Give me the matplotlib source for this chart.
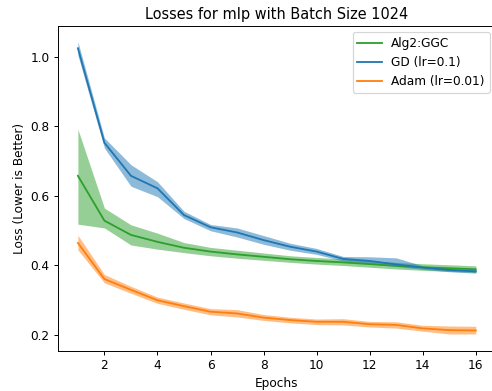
import numpy as np
import matplotlib
matplotlib.use('Agg')
import matplotlib.pyplot as plt

# データ
epochs = np.arange(1, 17)

ggc_mean = [0.658, 0.529, 0.488, 0.468, 0.451, 0.440, 0.432, 0.425,
            0.418, 0.413, 0.409, 0.404, 0.399, 0.395, 0.392, 0.389]
ggc_low = [0.519, 0.508, 0.459, 0.447, 0.437, 0.428, 0.421, 0.415,
           0.409, 0.404, 0.400, 0.395, 0.390, 0.386, 0.383, 0.380]
ggc_high = [0.792, 0.565, 0.517, 0.493, 0.466, 0.452, 0.444, 0.436,
            0.428, 0.423, 0.419, 0.414, 0.409, 0.405, 0.402, 0.399]

gd_mean = [1.025, 0.753, 0.658, 0.622, 0.545, 0.510, 0.495, 0.473,
           0.454, 0.440, 0.419, 0.413, 0.403, 0.394, 0.387, 0.383]
gd_low = [1.005, 0.738, 0.628, 0.598, 0.535, 0.500, 0.482, 0.461,
          0.444, 0.432, 0.413, 0.405, 0.397, 0.389, 0.382, 0.378]
gd_high = [1.044, 0.767, 0.690, 0.641, 0.556, 0.518, 0.508, 0.486,
           0.464, 0.449, 0.426, 0.425, 0.422, 0.399, 0.392, 0.388]

adam_mean = [0.465, 0.361, 0.330, 0.300, 0.283, 0.267, 0.262, 0.250,
             0.243, 0.238, 0.238, 0.231, 0.229, 0.219, 0.214, 0.213]
adam_low = [0.445, 0.350, 0.320, 0.291, 0.274, 0.258, 0.252, 0.242,
            0.235, 0.230, 0.229, 0.223, 0.220, 0.211, 0.203, 0.203]
adam_high = [0.487, 0.374, 0.340, 0.309, 0.292, 0.276, 0.273, 0.259,
             0.251, 0.246, 0.247, 0.239, 0.238, 0.228, 0.226, 0.225]

dpi = 87
fig = plt.figure(figsize=(492 / dpi, 391 / dpi), dpi=dpi)
ax = fig.add_axes([58 / 492, 40 / 391, (495.7 - 58) / 492, (351 - 26) / 391])

ax.plot(epochs, ggc_mean, color='tab:green', label='Alg2:GGC')
ax.fill_between(epochs, ggc_low, ggc_high, color='tab:green', alpha=0.5, linewidth=0)
ax.plot(epochs, gd_mean, color='tab:blue', label='GD (lr=0.1)')
ax.fill_between(epochs, gd_low, gd_high, color='tab:blue', alpha=0.5, linewidth=0)
ax.plot(epochs, adam_mean, color='tab:orange', label='Adam (lr=0.01)')
ax.fill_between(epochs, adam_low, adam_high, color='tab:orange', alpha=0.5, linewidth=0)

ax.set_xlim(0.25, 16.75)
ax.set_ylim(0.154, 1.089)
ax.set_xticks([2, 4, 6, 8, 10, 12, 14, 16])
ax.set_yticks([0.2, 0.4, 0.6, 0.8, 1.0])
ax.set_title('Losses for mlp with Batch Size 1024')
ax.set_xlabel('Epochs')
ax.set_ylabel('Loss (Lower is Better)')
ax.legend(loc='upper right')

fig.savefig('out.png', dpi=dpi)
